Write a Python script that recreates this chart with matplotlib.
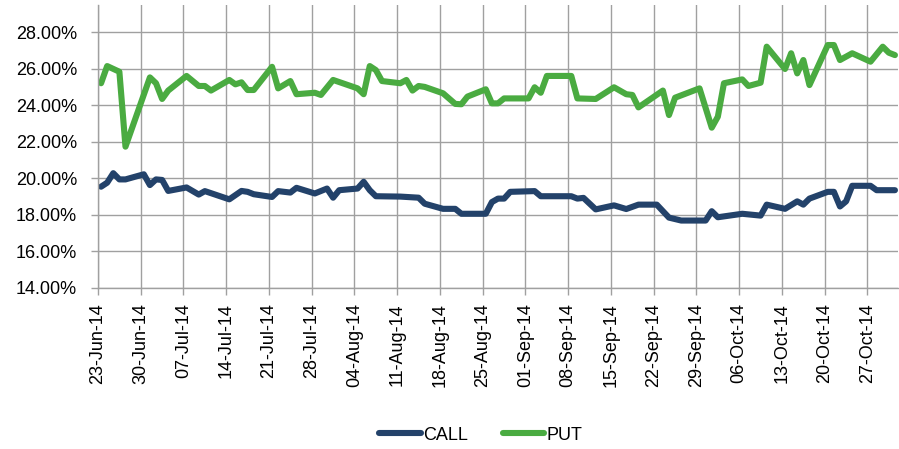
import pandas as pd
import numpy as np
import matplotlib
matplotlib.use("Agg")
import matplotlib.pyplot as plt
import matplotlib.dates as mdates

plt.rcParams["font.family"] = ["Liberation Sans", "DejaVu Sans"]

# values (implied vol, %)
call_dates = [
    "2014-06-23", "2014-06-24", "2014-06-25", "2014-06-26", "2014-06-27",
    "2014-06-30", "2014-07-01", "2014-07-02", "2014-07-03", "2014-07-04",
    "2014-07-07", "2014-07-09", "2014-07-10", "2014-07-14", "2014-07-16",
    "2014-07-17", "2014-07-18", "2014-07-21", "2014-07-22", "2014-07-24",
    "2014-07-25", "2014-07-28", "2014-07-30", "2014-07-31", "2014-08-01",
    "2014-08-04", "2014-08-05", "2014-08-06", "2014-08-07", "2014-08-11",
    "2014-08-14", "2014-08-15", "2014-08-18", "2014-08-20", "2014-08-21",
    "2014-08-25", "2014-08-26", "2014-08-27", "2014-08-28", "2014-08-29",
    "2014-09-02", "2014-09-03", "2014-09-08", "2014-09-09", "2014-09-10",
    "2014-09-12", "2014-09-15", "2014-09-17", "2014-09-19", "2014-09-22",
    "2014-09-24", "2014-09-26", "2014-09-30", "2014-10-01", "2014-10-02",
    "2014-10-06", "2014-10-09", "2014-10-10", "2014-10-13", "2014-10-15",
    "2014-10-16", "2014-10-17", "2014-10-20", "2014-10-21", "2014-10-22",
    "2014-10-23", "2014-10-24", "2014-10-27", "2014-10-28", "2014-10-31",
]
call_vals = [
    19.54, 19.76, 20.28, 19.94, 19.94,
    20.22, 19.63, 19.94, 19.91, 19.31,
    19.50, 19.11, 19.30, 18.85, 19.31,
    19.26, 19.13, 18.98, 19.30, 19.22,
    19.48, 19.17, 19.44, 18.94, 19.35,
    19.44, 19.81, 19.35, 19.02, 19.00,
    18.94, 18.61, 18.33, 18.33, 18.06,
    18.06, 18.70, 18.89, 18.89, 19.26,
    19.30, 19.02, 19.02, 18.89, 18.93,
    18.30, 18.52, 18.32, 18.56, 18.56,
    17.85, 17.69, 17.69, 18.20, 17.87,
    18.06, 17.96, 18.56, 18.33, 18.74,
    18.56, 18.89, 19.26, 19.26, 18.46,
    18.74, 19.59, 19.59, 19.35, 19.35,
]

put_dates = [
    "2014-06-23", "2014-06-24", "2014-06-26", "2014-06-27", "2014-07-01",
    "2014-07-02", "2014-07-03", "2014-07-04", "2014-07-07", "2014-07-09",
    "2014-07-10", "2014-07-11", "2014-07-14", "2014-07-15", "2014-07-16",
    "2014-07-17", "2014-07-18", "2014-07-21", "2014-07-22", "2014-07-24",
    "2014-07-25", "2014-07-28", "2014-07-29", "2014-07-31", "2014-08-04",
    "2014-08-05", "2014-08-06", "2014-08-07", "2014-08-08", "2014-08-11",
    "2014-08-12", "2014-08-13", "2014-08-14", "2014-08-15", "2014-08-18",
    "2014-08-20", "2014-08-21", "2014-08-22", "2014-08-25", "2014-08-26",
    "2014-08-27", "2014-08-28", "2014-09-01", "2014-09-02", "2014-09-03",
    "2014-09-04", "2014-09-08", "2014-09-09", "2014-09-12", "2014-09-15",
    "2014-09-17", "2014-09-18", "2014-09-19", "2014-09-23", "2014-09-24",
    "2014-09-25", "2014-09-29", "2014-10-01", "2014-10-02", "2014-10-03",
    "2014-10-06", "2014-10-07", "2014-10-09", "2014-10-10", "2014-10-13",
    "2014-10-14", "2014-10-15", "2014-10-16", "2014-10-17", "2014-10-20",
    "2014-10-21", "2014-10-22", "2014-10-24", "2014-10-27", "2014-10-29",
    "2014-10-30", "2014-10-31",
]
put_vals = [
    25.20, 26.14, 25.83, 21.73, 25.52,
    25.20, 24.34, 24.80, 25.60, 25.05,
    25.05, 24.80, 25.38, 25.14, 25.25,
    24.83, 24.83, 26.10, 24.92, 25.32,
    24.60, 24.68, 24.56, 25.38, 24.92,
    24.60, 26.14, 25.92, 25.32, 25.20,
    25.38, 24.80, 25.05, 25.00, 24.65,
    24.07, 24.05, 24.47, 24.87, 24.10,
    24.10, 24.37, 24.37, 24.98, 24.68,
    25.60, 25.60, 24.37, 24.34, 24.98,
    24.60, 24.56, 23.88, 24.80, 23.46,
    24.41, 24.92, 22.77, 23.37, 25.20,
    25.41, 25.05, 25.23, 27.20, 25.98,
    26.84, 25.74, 26.47, 25.10, 27.29,
    27.29, 26.47, 26.84, 26.38, 27.20,
    26.87, 26.74,
]

week_ticks = pd.date_range("2014-06-23", "2014-10-27", freq="7D")
y_ticks = [14, 16, 18, 20, 22, 24, 26, 28]

call_x = mdates.date2num(pd.to_datetime(call_dates))
put_x = mdates.date2num(pd.to_datetime(put_dates))
tick_x = mdates.date2num(week_ticks) - 0.5  # Excel puts points mid-day

fig = plt.figure(figsize=(8.99, 4.49), dpi=100)
ax = fig.add_axes([98 / 899, 1 - 288 / 449, 800 / 899, 283 / 449])

grid_col = "#a0a0a0"
ax.plot(call_x, call_vals, color="#23426a", lw=4.4, label="CALL",
        solid_joinstyle="round", solid_capstyle="round")
ax.plot(put_x, put_vals, color="#4aab41", lw=4.4, label="PUT",
        solid_joinstyle="round", solid_capstyle="round")

ax.set_xlim(mdates.date2num(pd.Timestamp("2014-06-23")) - 0.5,
            mdates.date2num(pd.Timestamp("2014-10-31")) + 0.5)
ax.set_ylim(14, 29.48)

ax.set_xticks(tick_x)
ax.set_xticklabels([d.strftime("%d-%b-%y") for d in week_ticks], rotation=90,
                   fontsize=13)
ax.set_yticks(y_ticks)
ax.set_yticklabels(["%.2f%%" % v for v in y_ticks], fontsize=13)

ax.grid(True, color=grid_col, lw=1.0)
ax.set_axisbelow(True)
for s in ["top", "right"]:
    ax.spines[s].set_visible(False)
for s in ["left", "bottom"]:
    ax.spines[s].set_color(grid_col)
    ax.spines[s].set_linewidth(1.0)
ax.tick_params(axis="both", colors=grid_col, length=5, width=1.0,
               labelcolor="black")
ax.tick_params(axis="x", pad=6)
ax.tick_params(axis="y", pad=10)

fig.legend(loc="center", bbox_to_anchor=(481 / 899, 1 - 435 / 449), ncol=2,
           frameon=False, fontsize=13, handlelength=2.3, handletextpad=0.15,
           columnspacing=1.9)

fig.savefig("out.png", dpi=100)
